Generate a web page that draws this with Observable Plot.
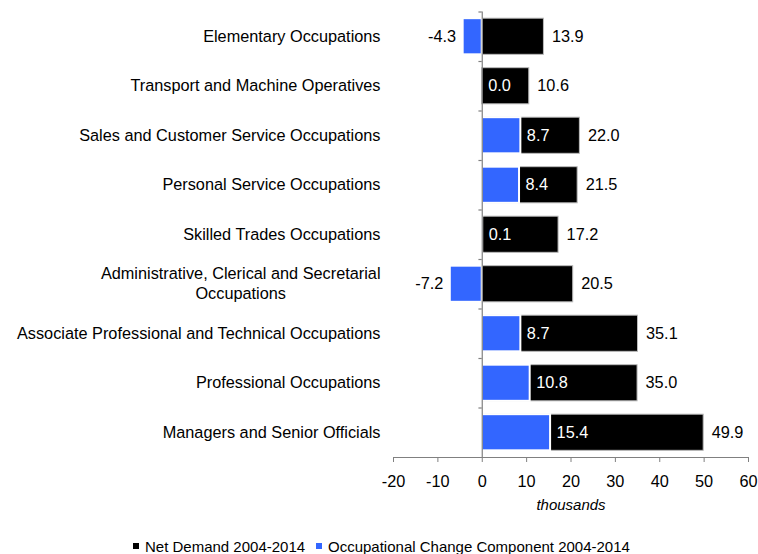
<!DOCTYPE html>
<html>
<head>
<meta charset="utf-8">
<script src="https://cdn.jsdelivr.net/npm/d3@7"></script>
<script src="https://cdn.jsdelivr.net/npm/@observablehq/plot@0.6"></script>
<style>
  html, body { margin: 0; padding: 0; background: #fff; }
  body { width: 758px; height: 554px; overflow: hidden; font-family: "Liberation Sans", Arial, sans-serif; }
  #legend { position: relative; height: 29px; font-size: 15px; color: #000; }
  .item { position: absolute; top: 13px; line-height: 18px; white-space: nowrap; }
  .sw { display: inline-block; width: 6px; height: 6px; margin-right: 6px; vertical-align: middle; position: relative; top: -2px; }
</style>
</head>
<body>
<div id="chart"></div>
<div id="legend"></div>
<script>
const categories = [
  "Elementary Occupations",
  "Transport and Machine Operatives",
  "Sales and Customer Service Occupations",
  "Personal Service Occupations",
  "Skilled Trades Occupations",
  "Administrative, Clerical and Secretarial\nOccupations",
  "Associate Professional and Technical Occupations",
  "Professional Occupations",
  "Managers and Senior Officials"
];
const netDemand = [13.9, 10.6, 22.0, 21.5, 17.2, 20.5, 35.1, 35.0, 49.9];
const occChange = [-4.3, 0.0, 8.7, 8.4, 0.1, -7.2, 8.7, 10.8, 15.4];
const xTicks = [-20, -10, 0, 10, 20, 30, 40, 50, 60];
const seriesNames = ["Net Demand 2004-2014", "Occupational Change Component 2004-2014"];
const seriesColors = ["#000000", "#3366FF"];
const xLabel = "thousands";

const FONT = '"Liberation Sans", Arial, sans-serif';
const FS = 16.3;
const data = categories.map((c, i) => ({
  i, label: c, line1: c.split("\n")[0], rest: c.split("\n").slice(1).join("\n"),
  net: netDemand[i], occ: occChange[i]
}));
const canvas = document.createElement("canvas");
const ctx = canvas.getContext("2d");
ctx.font = `${FS}px ${FONT}`;
const wLine = s => ctx.measureText(s).width;
const fmt = v => v.toFixed(1);

const pad = 0.135;
const labelDx = -13;
const multi = data.filter(d => d.rest);

const chart = Plot.plot({
  width: 758,
  height: 525,
  marginLeft: 393,
  marginRight: 10,
  marginTop: 11.5,
  marginBottom: 68,
  style: { fontFamily: FONT, fontSize: FS + "px", color: "#000", background: "#fff" },
  x: { domain: [-20, 60] },
  y: { domain: [0, 9], reverse: true, axis: null },
  marks: [
    Plot.rectX(data, { x1: 0, x2: "net", y1: d => d.i + pad, y2: d => d.i + 1 - pad, fill: seriesColors[0], stroke: "#bbbbbb", strokeWidth: 1 }),
    Plot.rectX(data, { x1: 0, x2: "occ", y1: d => d.i + pad, y2: d => d.i + 1 - pad, fill: seriesColors[1], stroke: "#ffffff", strokeWidth: 2 }),
    Plot.ruleX([0], { y1: 0, y2: 9, stroke: "#808080", strokeWidth: 1.2 }),
    Plot.ruleY(d3.range(0, 9), { x1: -0.75, x2: 0, stroke: "#808080", strokeWidth: 1.2 }),
    Plot.ruleY([9], { x1: -20, x2: 60, stroke: "#808080", strokeWidth: 1.2 }),
    Plot.axisX({ ticks: xTicks, tickSize: 5, tickPadding: 12.5, stroke: "#808080", fill: "#000", fontSize: FS, label: null, tickFormat: d => String(d) }),
    Plot.text([xLabel], { x: 20, frameAnchor: "bottom", dy: 52, fontStyle: "italic", fontSize: 15, fill: "#000" }),
    // category labels
    Plot.text(data.filter(d => !d.rest), { x: -20, y: d => d.i + 0.5, text: "line1", dx: labelDx, textAnchor: "end", fontSize: FS, fill: "#000" }),
    ...multi.map(d => Plot.text([d], { x: -20, y: e => e.i + 0.5, text: "line1", dx: labelDx, dy: -10, textAnchor: "end", fontSize: FS, fill: "#000" })),
    ...multi.map(d => Plot.text([d], { x: -20, y: e => e.i + 0.5, text: "rest", dx: labelDx - wLine(d.line1) / 2, dy: 10, textAnchor: "middle", fontSize: FS, fill: "#000" })),
    // value labels
    Plot.text(data, { x: "net", y: d => d.i + 0.5, text: d => fmt(d.net), dx: 8, textAnchor: "start", fontSize: FS, fill: "#000" }),
    Plot.text(data.filter(d => d.occ >= 0), { x: "occ", y: d => d.i + 0.5, text: d => fmt(d.occ), dx: 6, textAnchor: "start", fontSize: FS, fill: "#ffffff" }),
    Plot.text(data.filter(d => d.occ < 0), { x: "occ", y: d => d.i + 0.5, text: d => fmt(d.occ), dx: -7, textAnchor: "end", fontSize: FS, fill: "#000" })
  ]
});
document.getElementById("chart").appendChild(chart);

const legend = document.getElementById("legend");
const starts = [133, 316];
seriesNames.forEach((name, k) => {
  const it = document.createElement("div");
  it.className = "item";
  it.style.left = starts[k] + "px";
  const sw = document.createElement("span");
  sw.className = "sw";
  sw.style.background = seriesColors[k];
  it.appendChild(sw);
  it.appendChild(document.createTextNode(name));
  legend.appendChild(it);
});
</script>
</body>
</html>
